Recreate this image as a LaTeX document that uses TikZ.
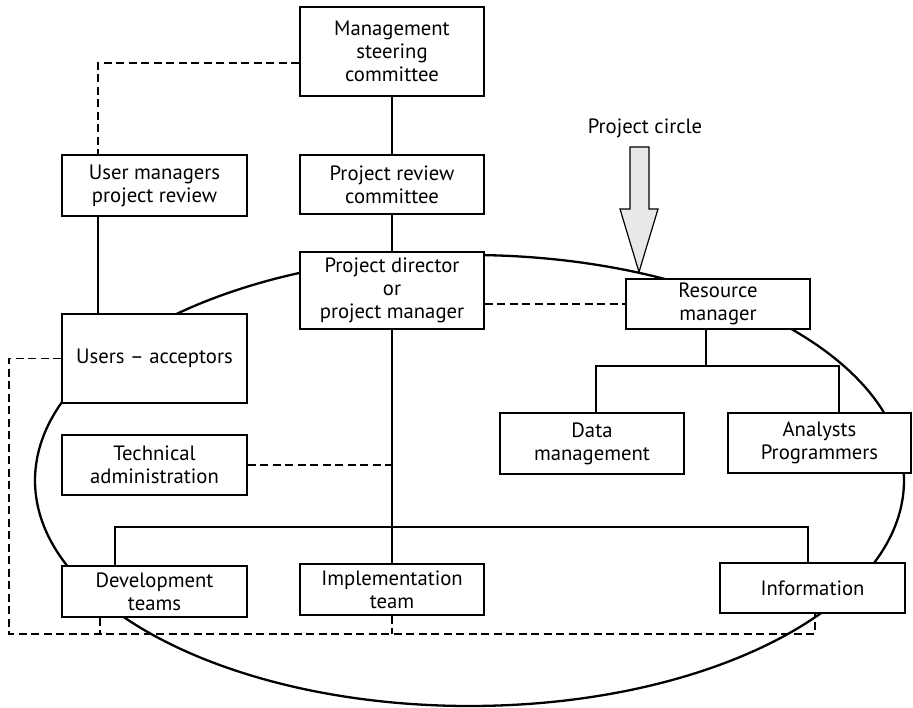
\documentclass[tikz,border=0pt]{standalone}
\usepackage{fontspec}
\setmainfont{PT Sans}
\begin{document}
\begin{tikzpicture}[x=1pt,y=-1pt,
  txt/.style={font=\fontsize{20.7}{23}\selectfont},
  box/.style={txt,draw,fill=white,line width=1.2pt,inner sep=0pt,align=center},
  link/.style={line width=1.2pt},
  dashlink/.style={line width=1.2pt,dash pattern=on 8pt off 4.5pt}]
\useasboundingbox (0,0) rectangle (913,708);

% the project circle
\draw[line width=2.3pt] (469.5,480.5) ellipse [x radius=434.5pt, y radius=225.5pt];

% boxes
\node[box,minimum width=184pt,minimum height=89pt] (msc) at (392,51.5) {Management\\steering\\committee};
\node[box,minimum width=185pt,minimum height=61pt] (umr) at (154.5,185.5) {User managers\\project review};
\node[box,minimum width=184pt,minimum height=59pt] (prc) at (392,184.5) {Project review\\committee};
\node[box,minimum width=184pt,minimum height=77pt] (pd) at (392,290.5) {Project director\\or\\project manager};
\node[box,minimum width=184pt,minimum height=50pt] (rm) at (718,304) {Resource\\manager};
\node[box,minimum width=185pt,minimum height=89pt] (ua) at (154.5,358.5) {Users -- acceptors};
\node[box,minimum width=185pt,minimum height=60pt] (ta) at (154.5,465) {Technical\\administration};
\node[box,minimum width=184pt,minimum height=61pt] (dm) at (592,443.5) {Data\\management};
\node[box,minimum width=183pt,minimum height=60pt] (ap) at (819.5,443) {Analysts\\Programmers};
\node[box,minimum width=185pt,minimum height=51pt] (dt) at (154.5,591.5) {Development\\teams};
\node[box,minimum width=184pt,minimum height=51pt] (it) at (392,589.5) {Implementation\\team};
\node[box,minimum width=185pt,minimum height=50pt] (info) at (812.5,588) {Information};

% block arrow and its label
\node[txt] (pclabel) at (645,128) {Project circle};
\draw[line width=1.2pt,fill=gray!18,line join=miter]
  (630,147) -- (649,147) -- (649,209) -- (658,209) -- (639,272) -- (620,209) -- (630,209) -- cycle;

% solid reporting lines
\draw[link] (msc) -- (prc);
\draw[link] (prc) -- (pd);
\draw[link] (pd) -- (it);
\draw[link] (umr.south -| 98,0) -- (ua.north -| 98,0);
\draw[link] (rm.south -| 706,0) -- (706,366);
\draw[link] (dm.north -| 596,0) -- (596,366) -- (839,366) -- (ap.north -| 839,0);
\draw[link] (dt.north -| 115,0) -- (115,527) -- (808,527) -- (info.north -| 808,0);

% dashed liaison lines
\draw[dashlink] (msc.west |- 0,63) -- (98,63) -- (umr.north -| 98,0);
\draw[dashlink] (pd.east |- rm.west) -- (rm.west);
\draw[dashlink] (ta.east) -- (ta.east -| pd.south);
\draw[dashlink] (ua.west) -- (9,358.5) -- (9,634) -- (815,634) -- (info.south -| 815,0);
\draw[dashlink] (dt.south -| 100,0) -- (100,634);
\draw[dashlink] (it.south) -- (it.south |- 0,634);
\end{tikzpicture}
\end{document}
